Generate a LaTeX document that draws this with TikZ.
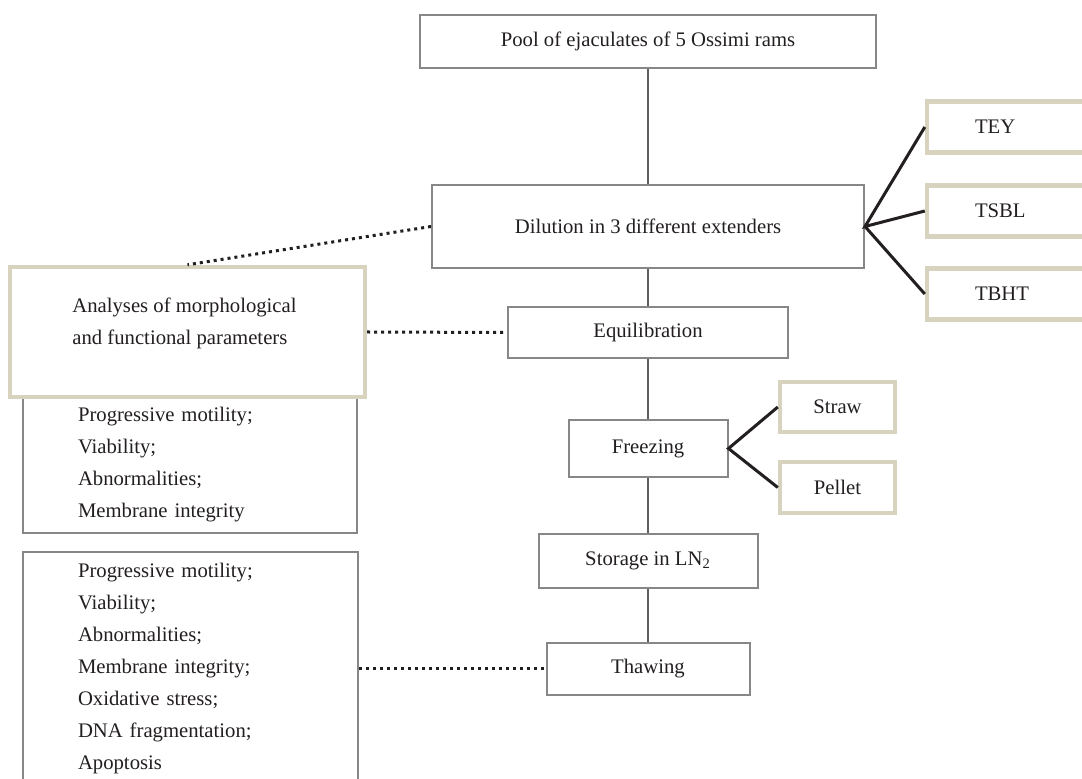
\documentclass[tikz,border=0pt]{standalone}
\usepackage{fontspec}
\setmainfont{Liberation Serif}
\usetikzlibrary{positioning}
\definecolor{boxgray}{RGB}{135,135,135}
\definecolor{linegray}{RGB}{95,95,95}
\definecolor{beige}{RGB}{216,211,191}
\definecolor{ink}{RGB}{35,31,32}
\tikzstyle{stage}=[draw=boxgray,line width=1pt,fill=white,inner sep=0pt,
  text=ink]
\tikzstyle{option}=[draw=beige,line width=2.2pt,fill=white,inner sep=0pt,
  text=ink]
\tikzstyle{branch}=[line width=1.5pt,ink]
\tikzstyle{link}=[dash pattern=on 1.5pt off 2pt,line width=1.5pt,ink]

\begin{document}
\begin{tikzpicture}[x=0.5pt,y=-0.5pt,on grid,
  font=\fontsize{10.35}{16}\selectfont]
  \tikzstyle{chain}=[linegray,line width=1.2pt]
  \tikzstyle{extender}=[option,minimum height=25.5pt,text width=36pt,
    inner xsep=24pt,align=left]
  \tikzstyle{list}=[stage,text width=112pt,inner xsep=27.5pt,align=left]

  \clip (0,0) rectangle (1082,779);
  \fill[white] (0,0) rectangle (1082,779);

  % main line of the protocol
  \node[stage, minimum width=228pt, minimum height=26.5pt] (pool) at (648,41.5)
    {Pool of ejaculates of 5 Ossimi rams};
  \node[stage, minimum width=216pt, minimum height=41.5pt, below=92.5pt of pool]
    (dilution) {Dilution in 3 different extenders};
  \node[stage, minimum width=140pt, minimum height=25.5pt, below=53pt of dilution]
    (equil) {Equilibration};
  \node[stage, minimum width=79.5pt, minimum height=28.5pt, below=58pt of equil]
    (freezing) {Freezing};
  \node[stage, minimum width=109.5pt, minimum height=27pt, below=56.25pt of freezing]
    (storage) {Storage in LN\textsubscript{2}};
  \node[stage, minimum width=101.5pt, minimum height=26pt, below=54pt of storage]
    (thawing) {Thawing};

  % extenders and packaging
  \node[extender] (tey) at (1011,127) {TEY};
  \node[extender, below=42pt of tey] (tsbl) {TSBL};
  \node[extender, below=41.5pt of tsbl] (tbht) {TBHT};
  \node[option, minimum width=57.5pt, minimum height=25pt] (straw) at (837.5,407) {Straw};
  \node[option, minimum width=57.5pt, minimum height=25.5pt, below=40.25pt of straw]
    (pellet) {Pellet};

  % analyses
  \node[list, minimum height=68pt] (list1) at (190,465)
    {Progressive motility;\\Viability;\\Abnormalities;\\Membrane integrity};
  \node[option, minimum width=177.5pt, minimum height=65pt] (analyses) at (187.5,332) {};
  \node[anchor=west, align=left, text=ink, inner sep=0pt] (analysestext) at (72,323)
    {Analyses of morphological\\and functional parameters};
  \node[list, text width=112.5pt, minimum height=117pt] (list2) at (190.5,669)
    {Progressive motility;\\Viability;\\Abnormalities;\\Membrane integrity;\\
     Oxidative stress;\\DNA fragmentation;\\Apoptosis};

  \draw[chain] (pool) -- (dilution) (dilution) -- (equil) (equil) -- (freezing)
    (freezing) -- (storage) (storage) -- (thawing);
  \draw[branch] (tey.west) -- (dilution.east) -- (tsbl.west)
    (dilution.east) -- (tbht.west);
  \draw[branch] (straw.west) -- (freezing.east) -- (pellet.west);
  \draw[link] (dilution.west) -- (analyses.north);
  \draw[link] (analyses.east) -- (equil.west);
  \draw[link] (thawing.west -| list2.east) -- (thawing.west);
\end{tikzpicture}
\end{document}
